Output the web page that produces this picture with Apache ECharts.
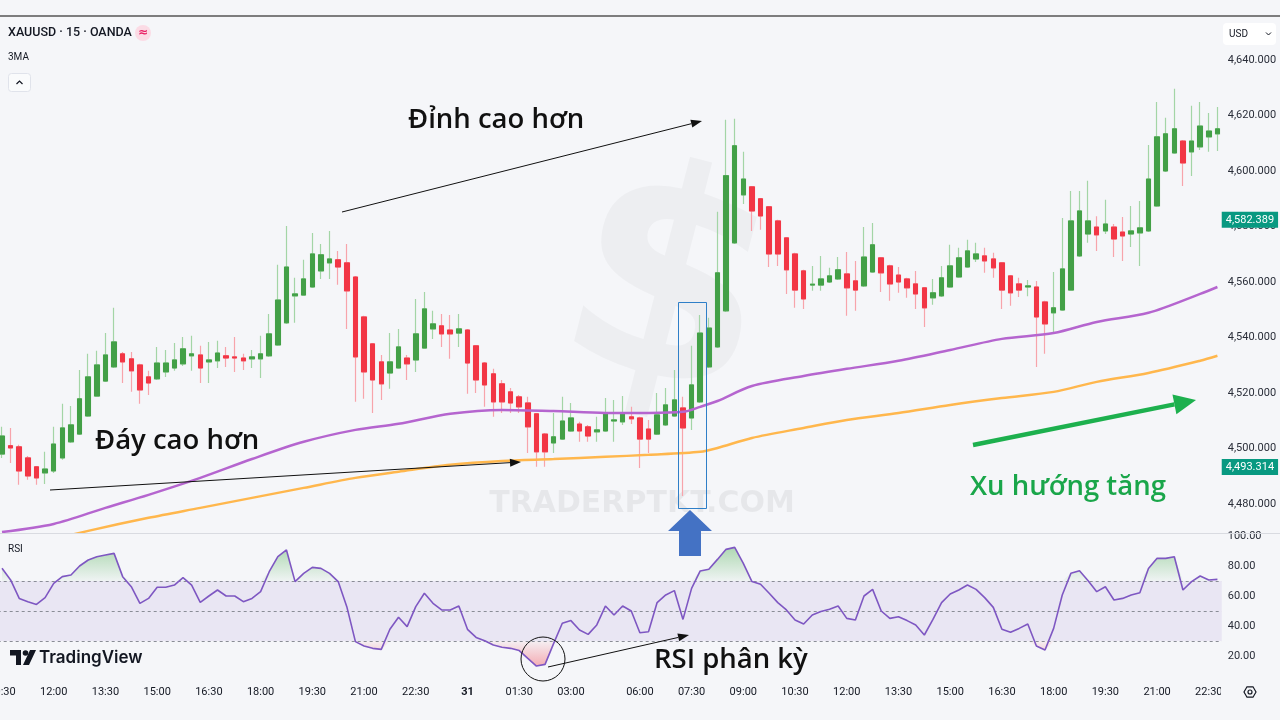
<!DOCTYPE html>
<html>
<head>
<meta charset="utf-8">
<script src="https://cdn.jsdelivr.net/npm/echarts@6.0.0/dist/echarts.min.js"></script>
<style>
  html, body { margin: 0; padding: 0; background: #f5f6f9; }
  #chart { width: 1280px; height: 720px; }
</style>
</head>
<body>
<div id="chart"></div>
<script>
// 15 minute candles, [open, close, low, high]
var ohlc = [
  [4498.0,4504.5,4496.6,4507.8],[4501.0,4500.2,4494.8,4507.4],[4500.6,4491.9,4486.9,4501.3],[4496.6,4490.1,4488.7,4497.3],
  [4493.4,4489.4,4486.9,4493.7],[4491.2,4492.6,4487.2,4498.8],[4491.9,4501.6,4491.2,4507.8],[4496.6,4507.4,4495.9,4516.1],
  [4502.4,4508.5,4502.0,4515.3],[4505.2,4517.9,4504.9,4528.3],[4511.7,4525.8,4511.4,4534.1],[4518.9,4530.1,4518.6,4535.2],
  [4524.3,4533.7,4524.0,4541.6],[4529.4,4538.4,4529.0,4550.7],[4534.1,4531.2,4523.6,4534.8],[4532.3,4528.0,4520.4,4534.8],
  [4530.1,4521.1,4516.1,4530.5],[4525.8,4523.6,4519.3,4528.0],[4525.1,4530.8,4524.7,4536.6],[4527.6,4530.8,4525.8,4535.5],
  [4529.0,4531.9,4528.0,4538.0],[4530.5,4535.9,4529.7,4540.2],[4533.4,4534.1,4528.0,4540.6],[4533.7,4529.0,4523.6,4537.0],
  [4531.2,4531.9,4523.6,4538.4],[4531.6,4534.4,4529.0,4538.8],[4533.4,4532.6,4529.4,4536.6],[4533.0,4532.6,4527.6,4540.2],
  [4532.6,4531.6,4528.3,4534.1],[4532.3,4533.0,4529.0,4535.5],[4532.3,4534.1,4525.4,4540.6],[4533.4,4541.3,4533.0,4548.5],
  [4537.3,4553.5,4537.0,4566.2],[4545.3,4565.4,4544.9,4580.2],[4555.0,4555.7,4545.3,4561.5],[4555.3,4561.1,4555.0,4568.0],
  [4558.2,4570.1,4557.9,4577.7],[4564.0,4569.8,4561.1,4573.7],[4566.9,4568.3,4561.1,4578.4],[4568.0,4565.4,4559.0,4571.2],
  [4566.9,4556.8,4543.1,4573.7],[4561.8,4533.0,4516.8,4562.2],[4547.4,4527.6,4517.9,4547.8],[4537.7,4524.7,4512.8,4538.0],
  [4531.2,4523.3,4517.5,4533.7],[4527.2,4531.2,4521.5,4541.6],[4529.0,4536.6,4528.7,4543.1],[4532.6,4530.5,4524.7,4533.7],
  [4531.9,4541.3,4527.6,4553.9],[4536.2,4550.3,4535.9,4556.4],[4543.1,4544.9,4539.5,4549.6],[4544.2,4541.3,4536.6,4548.5],
  [4542.7,4541.3,4532.3,4548.1],[4541.6,4543.1,4536.6,4548.5],[4542.7,4530.8,4519.7,4543.1],[4537.0,4524.7,4520.0,4537.3],
  [4530.8,4522.9,4515.0,4531.2],[4526.9,4516.8,4511.4,4528.7],[4523.3,4516.8,4512.8,4524.7],[4520.4,4516.4,4512.8,4521.8],
  [4518.6,4515.0,4512.8,4519.3],[4516.4,4507.8,4498.4,4518.6],[4512.5,4498.8,4493.4,4512.8],[4505.2,4498.8,4493.4,4505.6],
  [4502.0,4504.2,4498.4,4512.8],[4503.4,4509.9,4503.1,4518.6],[4506.3,4511.0,4506.0,4516.4],[4508.8,4506.3,4502.4,4509.6],
  [4507.8,4504.5,4502.4,4508.5],[4506.0,4506.7,4502.4,4511.4],[4506.3,4512.8,4506.0,4518.2],[4509.9,4510.3,4502.4,4517.5],
  [4509.6,4512.8,4508.5,4518.9],[4511.4,4510.7,4508.8,4515.0],[4511.0,4503.4,4493.0,4511.4],[4507.0,4503.4,4498.4,4510.3],
  [4505.2,4512.1,4504.9,4520.0],[4508.5,4515.7,4508.1,4521.8],[4511.7,4517.5,4511.4,4528.3],[4514.6,4507.4,4482.9,4518.6],
  [4511.0,4522.9,4506.7,4537.0],[4516.8,4541.6,4516.4,4548.1],[4529.4,4543.4,4529.0,4547.1],[4536.6,4563.3,4536.2,4585.3],
  [4549.6,4598.3,4549.2,4618.5],[4574.1,4609.1,4573.7,4618.8],[4591.4,4597.1,4588.1,4606.9],[4594.3,4585.6,4578.4,4594.6],
  [4590.0,4583.8,4578.8,4590.3],[4587.1,4570.1,4565.4,4587.4],[4582.0,4570.1,4565.8,4582.4],[4575.9,4564.4,4555.7,4576.2],
  [4570.1,4557.1,4550.7,4570.5],[4564.0,4553.9,4550.3,4564.4],[4558.9,4559.2,4556.8,4565.8],[4558.9,4561.1,4556.8,4569.4],
  [4560.0,4562.2,4559.6,4565.1],[4561.1,4564.4,4560.7,4569.0],[4562.9,4557.9,4547.8,4570.8],[4560.4,4557.1,4549.6,4567.6],
  [4558.6,4569.0,4558.2,4579.8],[4563.6,4573.4,4563.3,4581.3],[4568.7,4563.3,4556.4,4569.0],[4565.8,4559.3,4553.2,4566.2],
  [4562.5,4560.0,4556.1,4565.4],[4561.1,4557.9,4554.3,4561.5],[4559.3,4555.7,4550.3,4564.0],[4557.9,4550.7,4543.8,4558.2],
  [4554.3,4556.1,4551.8,4561.1],[4555.0,4561.5,4554.6,4565.8],[4558.2,4565.8,4557.9,4573.4],[4561.8,4568.7,4561.5,4572.3],
  [4565.4,4571.2,4565.1,4575.2],[4568.3,4570.1,4567.2,4574.1],[4569.4,4567.6,4563.3,4572.3],[4568.3,4565.1,4561.5,4570.5],
  [4566.9,4557.1,4550.3,4567.2],[4562.2,4556.1,4551.4,4562.5],[4559.3,4557.1,4554.6,4561.5],[4558.2,4558.6,4554.9,4560.7],
  [4558.2,4547.4,4529.4,4560.4],[4552.8,4544.9,4534.1,4553.2],[4548.9,4550.7,4541.3,4563.6],[4549.9,4564.7,4549.6,4583.1],
  [4557.1,4582.0,4556.8,4592.8],[4569.4,4585.6,4569.0,4592.8],[4577.3,4582.0,4574.1,4596.5],[4579.8,4577.0,4571.2,4583.7],
  [4578.4,4580.9,4577.3,4589.6],[4579.8,4575.5,4569.0,4580.9],[4578.0,4576.6,4567.6,4583.4],[4577.3,4578.4,4572.6,4587.4],
  [4577.7,4579.5,4565.8,4589.2],[4578.4,4597.1,4578.0,4609.4],[4587.4,4612.3,4587.1,4624.9],[4600.0,4613.4,4599.6,4619.2],
  [4606.5,4615.2,4606.2,4629.6],[4610.8,4602.9,4594.6,4611.2],[4606.9,4610.8,4598.2,4623.5],[4608.7,4616.2,4607.6,4624.9],
  [4612.3,4614.4,4606.9,4620.9],[4613.4,4615.2,4607.2,4623.1]
]

// RSI value for each candle
var rsiValues = [
  78.5, 70.7, 58.4, 56.2, 54.4, 58.9, 68.4, 72.9, 74, 80,
  84, 86.2, 87.3, 88.4, 72.9, 66.2, 55.1, 58.4, 65.8, 65.8,
  67.3, 72.2, 67.3, 55.8, 60, 64, 60, 60, 56.2, 58.4,
  62.9, 76.2, 86.2, 90.7, 69.6, 75.1, 79.1, 78.4, 75.1, 69.6,
  52.9, 29.6, 26.7, 25.1, 24.4, 37.8, 45.8, 39.6, 52.9, 61.8,
  55.1, 50.7, 50.7, 53.3, 37.8, 32.4, 30.2, 27.3, 25.8, 25.1,
  23.6, 18.4, 13.3, 14.4, 28.4, 41.8, 43.6, 37.3, 34.4, 40.7,
  53.3, 47.3, 53.3, 50, 35.5,
  36.2, 55.6, 60.7, 63.6, 44.4, 65.1, 76.7, 77.8, 84.4, 91.1,
  92.4, 81.8, 69.6, 67.8, 61.8, 55.6, 50.7, 44, 41.3, 47.3,
  49.6, 51.1, 53.3, 45.1, 44, 60, 64.4, 50, 45.1, 46.2,
  43.6, 40.7, 34, 44.4, 55.6, 61.3, 64, 67.3, 64.4, 58.9,
  52.4, 37.8, 35.8, 38.4, 41.3, 26.7, 24, 38.4, 60.7, 75.1,
  76.9, 70.2, 62.9, 66.2, 57.3, 58.4, 60.7, 62.2, 78.4, 85.1,
  85.1, 86.2, 64, 69.6, 73.3, 70.7, 71.1
]

// moving averages, [candle index, price]
var maPurple = [
  [0,4469.9],[6,4472.8],[12,4478.6],[17,4483.3],[23,4489.4],[29,4496.2],[35,4502.4],[41,4506.7],
  [46,4508.9],[52,4512.5],[58,4513.9],[64,4513.5],[70,4512.8],[75,4512.8],[79,4513.2],[81,4515.0],
  [83,4517.1],[87,4522.5],[93,4526.1],[98,4528.7],[104,4531.6],[110,4535.5],[116,4539.5],[122,4541.6],
  [127,4545.6],[133,4548.9],[139,4555.7],[141,4558.2]
]
var maOrange = [
  [0,4463.0],[10,4470.3],[17,4475.0],[23,4478.6],[29,4482.2],[35,4485.8],[41,4489.4],[46,4491.6],
  [52,4494.1],[58,4495.5],[64,4496.2],[70,4497.0],[75,4497.7],[81,4498.8],[83,4500.2],[87,4503.8],
  [93,4507.4],[98,4510.3],[104,4512.8],[110,4515.7],[116,4518.2],[122,4520.4],[127,4524.0],[133,4527.2],
  [139,4531.6],[141,4533.4]
]

var tickIndex = [0, 6, 12, 18, 24, 30, 36, 42, 48, 54, 60, 66, 74, 80, 86, 92, 98, 104, 110, 116, 122, 128, 134, 140]
var tickText = ['10:30', '12:00', '13:30', '15:00', '16:30', '18:00', '19:30', '21:00', '22:30', '31', '01:30', '03:00',
  '06:00', '07:30', '09:00', '10:30', '12:00', '13:30', '15:00', '16:30', '18:00', '19:30', '21:00', '22:30']
var priceTicks = [4480, 4500, 4520, 4540, 4560, 4580, 4600, 4620, 4640]
var rsiTicks = [20, 40, 60, 80, 100]
var priceTags = [4582.389, 4493.314]

var categories = ohlc.map(function(d, i) { return String(i) })
var bodies = ohlc.map(function(d) { return [d[0], d[1], Math.min(d[0], d[1]), Math.max(d[0], d[1])] })

function fmt(v, d) {
  return v.toFixed(d).replace(/\B(?=(\d{3})+(?!\d))/g, ',')
}

function arrow(x1, y1, x2, y2, color, w, hl, hw) {
  var a = Math.atan2(y2 - y1, x2 - x1)
  var bx = x2 - hl * Math.cos(a)
  var by = y2 - hl * Math.sin(a)
  var px = -Math.sin(a) * hw
  var py = Math.cos(a) * hw
  return [
    { type: 'line', z: 100, shape: { x1: x1, y1: y1, x2: bx, y2: by }, style: { stroke: color, lineWidth: w } },
    { type: 'polygon', z: 100, shape: { points: [[x2, y2], [bx + px, by + py], [bx - px, by - py]] }, style: { fill: color } }
  ]
}

function label(text, x, y, font, color, z) {
  return { type: 'text', x: x, y: y, z: z || 100, style: { text: text, font: font, fill: color, align: 'left', verticalAlign: 'middle' } }
}

var bandW = 8.62
var gridLeft = 2 - bandW / 2
var gridWidth = bandW * ohlc.length

var chart = echarts.init(document.getElementById('chart'))

var hex = []
for (var k = 0; k < 6; k++) {
  hex.push([1250 + 6 * Math.cos(Math.PI / 3 * k), 692 + 6 * Math.sin(Math.PI / 3 * k)])
}

var annoFont = '600 27.5px "Open Sans"'

var graphics = [
  { type: 'line', z: 50, shape: { x1: 0, y1: 16, x2: 1280, y2: 16 }, style: { stroke: '#555', lineWidth: 1.5 } },
  { type: 'line', z: 50, shape: { x1: 0, y1: 533.5, x2: 1280, y2: 533.5 }, style: { stroke: '#d9dbe1', lineWidth: 1 } },
  // watermark
  { type: 'text', x: 665, y: 300, z: 1, rotation: -0.25, style: { text: '$', font: 'bold 290px "DejaVu Sans"', fill: 'rgba(0,0,0,0.03)', align: 'center', verticalAlign: 'middle' } },
  { type: 'text', x: 642, y: 504, z: 1, style: { text: 'TRADERPTKT.COM', font: 'bold 30px "DejaVu Sans"', fill: 'rgba(0,0,0,0.06)', align: 'center', verticalAlign: 'middle' } },
  // header
  label('XAUUSD · 15 · OANDA', 8, 33, '500 12.5px Roboto', '#131722'),
  { type: 'circle', z: 100, shape: { cx: 143, cy: 33, r: 8 }, style: { fill: '#fbdbe5' } },
  { type: 'text', x: 143, y: 33, z: 101, style: { text: '≈', font: 'bold 12px "DejaVu Sans"', fill: '#e91e63', align: 'center', verticalAlign: 'middle' } },
  label('3MA', 8, 57, '10px Roboto', '#131722'),
  { type: 'rect', z: 100, shape: { x: 8.5, y: 73.5, width: 22, height: 18, r: 3 }, style: { fill: '#fafbfc', stroke: '#e0e3eb' } },
  { type: 'polyline', z: 101, shape: { points: [[16.5, 84], [19.5, 81], [22.5, 84]] }, style: { stroke: '#131722', lineWidth: 1.2, fill: null } },
  { type: 'rect', z: 100, shape: { x: 1223, y: 23, width: 53, height: 22, r: 4 }, style: { fill: '#ffffff' } },
  label('USD', 1229, 34, '10px Roboto', '#131722'),
  { type: 'polyline', z: 101, shape: { points: [[1266, 32.5], [1268.5, 35], [1271, 32.5]] }, style: { stroke: '#131722', lineWidth: 1, fill: null } },
  label('RSI', 8, 549, '10px Roboto', '#131722'),
  // TradingView logo
  { type: 'polygon', z: 100, shape: { points: [[10, 650], [21, 650], [21, 665], [16, 665], [16, 655.5], [10, 655.5]] }, style: { fill: '#131722' } },
  { type: 'circle', z: 100, shape: { cx: 25.5, cy: 653, r: 2.8 }, style: { fill: '#131722' } },
  { type: 'polygon', z: 100, shape: { points: [[30, 650], [36, 650], [29, 665], [23, 665]] }, style: { fill: '#131722' } },
  label('TradingView', 39, 658, '600 17px Inter', '#131722'),
  // cover of the time labels under the price scale + settings icon
  { type: 'rect', z: 60, shape: { x: 1221, y: 681, width: 59, height: 24 }, style: { fill: '#f5f6f9' } },
  { type: 'polygon', z: 61, shape: { points: hex }, style: { fill: null, stroke: '#131722', lineWidth: 1.2 } },
  { type: 'circle', z: 61, shape: { cx: 1250, cy: 692, r: 2 }, style: { fill: null, stroke: '#131722', lineWidth: 1.2 } },
  // annotations
  label('Đỉnh cao hơn', 408, 120, annoFont, '#111'),
  label('Đáy cao hơn', 95, 441, annoFont, '#111'),
  label('Xu hướng tăng', 970, 487, annoFont, '#1aa64a'),
  label('RSI phân kỳ', 654, 660, annoFont, '#111'),
  { type: 'rect', z: 100, shape: { x: 678.5, y: 302.5, width: 28, height: 206 }, style: { fill: null, stroke: '#2f7fc8', lineWidth: 1 } },
  { type: 'polygon', z: 100, shape: { points: [[690, 510], [712, 531], [701, 531], [701, 556], [679, 556], [679, 531], [668, 531]] }, style: { fill: '#4472c4' } },
  { type: 'circle', z: 100, shape: { cx: 543, cy: 659, r: 22 }, style: { fill: null, stroke: '#111', lineWidth: 1 } }
]
graphics = graphics
  .concat(arrow(342, 212, 702, 121, '#111', 1, 11, 4))
  .concat(arrow(50, 490, 521, 462, '#111', 1, 11, 4))
  .concat(arrow(548, 667, 689, 635, '#111', 1, 11, 4))
  .concat(arrow(973, 445, 1196, 400, '#1db04e', 4.5, 22, 10))

chart.setOption({
  animation: false,
  backgroundColor: '#f5f6f9',
  grid: [
    { left: gridLeft, width: gridWidth, top: 17, height: 515, outerBoundsMode: 'none', containLabel: false },
    { left: gridLeft, width: gridWidth, top: 534, height: 146, outerBoundsMode: 'none', containLabel: false }
  ],
  xAxis: [
    { type: 'category', gridIndex: 0, data: categories, show: false },
    {
      type: 'category', gridIndex: 1, data: categories,
      axisLine: { show: false }, axisTick: { show: false },
      axisLabel: {
        interval: function(index) { return tickIndex.indexOf(index) >= 0 },
        formatter: function(value, index) {
          var n = tickIndex.indexOf(index)
          if (n < 0) return ''
          return tickText[n] === '31' ? '{b|31}' : tickText[n]
        },
        rich: { b: { fontWeight: 'bold', fontSize: 11, fontFamily: 'Roboto', color: '#131722' } },
        color: '#131722', fontSize: 11, fontFamily: 'Roboto', margin: 7, hideOverlap: false
      }
    }
  ],
  yAxis: [
    {
      type: 'value', gridIndex: 0, position: 'right', min: 4469.9, max: 4655.5, scale: true,
      splitLine: { show: false }, axisLine: { show: false }, axisTick: { show: false },
      axisLabel: { customValues: priceTicks, formatter: function(v) { return fmt(v, 3) }, color: '#2a2e39', fontSize: 11, fontFamily: 'Roboto', margin: 6 }
    },
    {
      type: 'value', gridIndex: 1, position: 'right', min: 4, max: 101.33,
      splitLine: { show: false }, axisLine: { show: false }, axisTick: { show: false },
      axisLabel: { customValues: rsiTicks, formatter: function(v) { return fmt(v, 2) }, color: '#2a2e39', fontSize: 11, fontFamily: 'Roboto', margin: 6 }
    }
  ],
  series: [
    {
      name: 'wick', type: 'candlestick', xAxisIndex: 0, yAxisIndex: 0, data: ohlc, barWidth: 5, silent: true, z: 2,
      itemStyle: { color: '#a3d5a6', color0: '#f7a4ab', borderColor: '#a3d5a6', borderColor0: '#f7a4ab', borderWidth: 1.2 }
    },
    {
      name: 'body', type: 'candlestick', xAxisIndex: 0, yAxisIndex: 0, data: bodies, barWidth: 5, silent: true, z: 3,
      itemStyle: { color: '#43a047', color0: '#f23645', borderColor: '#43a047', borderColor0: '#f23645', borderWidth: 1 }
    },
    {
      name: 'tags', type: 'line', xAxisIndex: 0, yAxisIndex: 0, data: [], z: 6,
      markLine: {
        silent: true, symbol: 'none', precision: 3,
        lineStyle: { color: 'rgba(0,0,0,0)', width: 0 },
        label: {
          show: true, position: 'end', distance: 0,
          formatter: function(p) { return fmt(priceTags[p.dataIndex], 3) },
          backgroundColor: '#089981', color: '#ffffff', fontSize: 11, fontFamily: 'Roboto', padding: [3, 4, 2, 4]
        },
        data: priceTags.map(function(v) { return { yAxis: v } })
      }
    },
    {
      name: 'MA1', type: 'line', xAxisIndex: 0, yAxisIndex: 0, data: maPurple, smooth: 0.3, symbol: 'none', z: 4,
      lineStyle: { color: '#b565cf', width: 2.5 }
    },
    {
      name: 'MA2', type: 'line', xAxisIndex: 0, yAxisIndex: 0, data: maOrange, smooth: 0.3, symbol: 'none', z: 4,
      lineStyle: { color: '#ffb74d', width: 2.5 }
    },
    {
      name: 'band', type: 'line', xAxisIndex: 1, yAxisIndex: 1, data: [], z: 1,
      markArea: { silent: true, itemStyle: { color: 'rgba(126,87,194,0.1)' }, data: [[{ yAxis: 30 }, { yAxis: 70 }]] },
      markLine: {
        silent: true, symbol: 'none', label: { show: false },
        lineStyle: { color: '#8a8d96', type: [3, 3], width: 1 },
        data: [{ yAxis: 70 }, { yAxis: 50 }, { yAxis: 30 }]
      }
    },
    {
      name: 'obBase', type: 'line', xAxisIndex: 1, yAxisIndex: 1, stack: 'ob', symbol: 'none', z: 2,
      data: rsiValues.map(function() { return 70 }), lineStyle: { opacity: 0 }
    },
    {
      name: 'obFill', type: 'line', xAxisIndex: 1, yAxisIndex: 1, stack: 'ob', symbol: 'none', z: 2,
      data: rsiValues.map(function(v) { return Math.max(v - 70, 0) }), lineStyle: { opacity: 0 },
      areaStyle: { color: new echarts.graphic.LinearGradient(0, 0, 0, 1, [
        { offset: 0, color: 'rgba(76,175,80,0.6)' }, { offset: 1, color: 'rgba(76,175,80,0.05)' }]) }
    },
    {
      name: 'osBase', type: 'line', xAxisIndex: 1, yAxisIndex: 1, stack: 'os', symbol: 'none', z: 2,
      data: rsiValues.map(function(v) { return Math.min(v, 30) }), lineStyle: { opacity: 0 }
    },
    {
      name: 'osFill', type: 'line', xAxisIndex: 1, yAxisIndex: 1, stack: 'os', symbol: 'none', z: 2,
      data: rsiValues.map(function(v) { return 30 - Math.min(v, 30) }), lineStyle: { opacity: 0 },
      areaStyle: { color: new echarts.graphic.LinearGradient(0, 0, 0, 1, [
        { offset: 0, color: 'rgba(242,54,69,0.05)' }, { offset: 1, color: 'rgba(242,54,69,0.55)' }]) }
    },
    {
      name: 'RSI', type: 'line', xAxisIndex: 1, yAxisIndex: 1, data: rsiValues, symbol: 'none', z: 5,
      lineStyle: { color: '#7e57c2', width: 1.6 }
    }
  ],
  graphic: graphics
})
</script>
</body>
</html>
